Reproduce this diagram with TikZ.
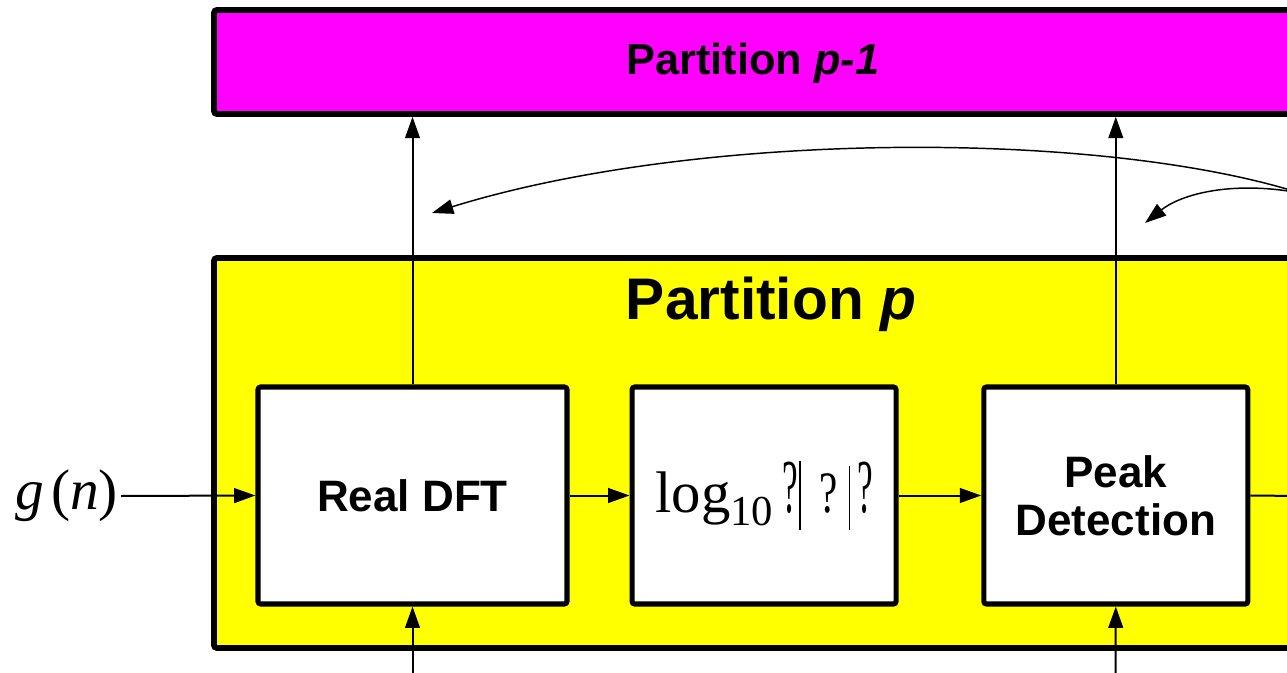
\documentclass[tikz,border=0pt]{standalone}
\usepackage{fontspec}
\setsansfont{Liberation Sans}
\newfontfamily\timesfont{Liberation Serif}
\usepackage{graphicx}
\usetikzlibrary{arrows.meta,positioning,fit}

\definecolor{prevfill}{RGB}{255,0,255}
\definecolor{curfill}{RGB}{255,255,0}

\begin{document}
\begin{tikzpicture}[x=0.75pt,y=-0.75pt]
    \tikzstyle{part}=[draw,line width=4.2pt,rounded corners=2pt,inner sep=0pt]
    \tikzstyle{block}=[draw,fill=white,line width=3.8pt,rounded corners=2pt,inner sep=0pt,
        minimum height=162.75pt,font=\sffamily\bfseries\fontsize{33}{36}\selectfont,align=center]
    \tikzstyle{title}=[anchor=base]
    \tikzstyle{sig}=[line width=1.5pt,-{Triangle[length=16pt,width=11pt]}]
    \tikzstyle{fback}=[line width=1.1pt,-{Triangle[length=16pt,width=11pt]}]

    \useasboundingbox (0,0) rectangle (1287,673);
    \clip (0,0) rectangle (1287,673);

    % partitions
    \node[part,fill=prevfill,fit={(214,10) (1400,114)}] (prev) {};
    \node[title,font=\sffamily\bfseries\fontsize{32.5}{36}\selectfont] (prevlbl) at (753,75) {Partition \textit{p-1}};
    \node[part,fill=curfill,fit={(214,258) (1400,648)}] (cur) {};
    \node[title,font=\sffamily\bfseries\fontsize{44}{48}\selectfont] (curlbl) at (771,320) {Partition \textit{p}};

    % processing chain
    \node[block,minimum width=231.75pt] (dft) at (412.5,495.5) {Real DFT};
    \node[block,minimum width=198pt,right=45pt of dft,font=\timesfont\fontsize{44}{46}\selectfont] (log)
        {log\raisebox{-10pt}{\fontsize{32}{32}\selectfont 10}\kern7pt\scalebox{0.6}[1.3]{?}\kern1pt\rule[-13.5pt]{1.3pt}{52pt}\kern14pt\scalebox{0.7}[1]{?}\kern8pt\rule[-13.5pt]{1.3pt}{48pt}\kern5pt\scalebox{0.6}[1.3]{?}};
    \node[block,minimum width=198pt,right=62pt of log] (peak) {Peak\\Detection};

    \node[font=\timesfont\fontsize{43}{44}\selectfont,inner sep=2pt,anchor=east] (g) at (121,496)
        {\textit{g}\kern5pt(\textit{n})};

    \coordinate (out) at (1300,496);
    \coordinate (dftin) at (412.5,690);
    \coordinate (peakin) at (1115.5,690);
    \coordinate (fb) at (1300,193);
    \coordinate (fbdft) at (432,213);
    \coordinate (fbpeak) at (1145,223);

    \draw[sig] (g.east) -- (dft.west);
    \draw[sig] (dft) -- (log);
    \draw[sig] (log) -- (peak);
    \draw[line width=1.5pt] (peak.east) -- (out);
    \draw[sig] (dft.north) -- (dft.north |- prev.south);
    \draw[sig] (peak.north) -- (peak.north |- prev.south);
    \draw[sig] (dftin) -- (dft.south);
    \draw[sig] (peakin) -- (peak.south);

    % feedback from the right
    \draw[fback] (fb) .. controls (1100,130) and (700,130) .. (fbdft);
    \draw[fback] (fb) .. controls (1230,180) and (1180,195) .. (fbpeak);
\end{tikzpicture}
\end{document}
